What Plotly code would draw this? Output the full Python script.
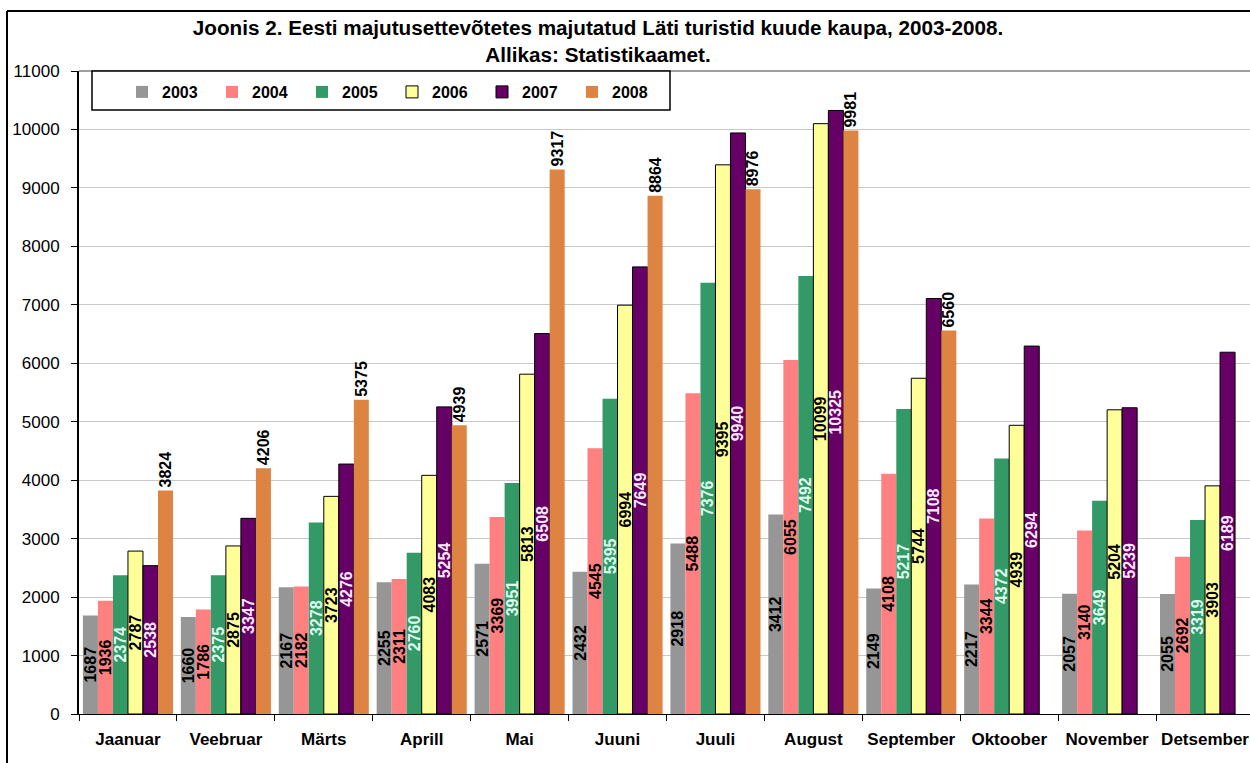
import plotly.graph_objects as go

months = ["Jaanuar", "Veebruar", "Märts", "Aprill", "Mai", "Juuni", "Juuli",
          "August", "September", "Oktoober", "November", "Detsember"]
years = ["2003", "2004", "2005", "2006", "2007", "2008"]

v2003 = [1687, 1660, 2167, 2255, 2571, 2432, 2918, 3412, 2149, 2217, 2057, 2055]
v2004 = [1936, 1786, 2182, 2311, 3369, 4545, 5488, 6055, 4108, 3344, 3140, 2692]
v2005 = [2374, 2375, 3278, 2760, 3951, 5395, 7376, 7492, 5217, 4372, 3649, 3319]
v2006 = [2787, 2875, 3723, 4083, 5813, 6994, 9395, 10099, 5744, 4939, 5204, 3903]
v2007 = [2538, 3347, 4276, 5254, 6508, 7649, 9940, 10325, 7108, 6294, 5239, 6189]
v2008 = [3824, 4206, 5375, 4939, 9317, 8864, 8976, 9981, 6560, None, None, None]

series = [v2003, v2004, v2005, v2006, v2007, v2008]
colors = ["#969696", "#FF8080", "#339966", "#FFFF99", "#660066", "#DD8442"]
label_colors = ["#000000", "#000000", "#DDFFF0", "#000000", "#FFE8FF", "#000000"]
outline = [0, 0, 0, 1, 1, 0]

FONT = "Liberation Sans, Arial, sans-serif"
W, H = 1250, 763
L, T = 79, 71
PLOT_BOTTOM = 714
PLOT_RIGHT = 1254
pw, ph = PLOT_RIGHT - L, PLOT_BOTTOM - T
B = H - PLOT_BOTTOM
visible_right = 11.5 - (PLOT_RIGHT - W) / (pw / 12)

fig = go.Figure()
for i, (yr, vals) in enumerate(zip(years, series)):
    outside = (yr == "2008")
    fig.add_trace(go.Bar(
        x=months, y=vals, name=yr,
        marker=dict(color=colors[i], line=dict(color="#000000", width=outline[i])),
        text=[("" if v is None else str(v)) for v in vals],
        texttemplate="%{text}",
        textposition="outside" if outside else "inside",
        insidetextanchor="middle",
        textangle=-90,
        constraintext="none",
        cliponaxis=False,
        textfont=dict(family=FONT, size=16, color=label_colors[i], weight="bold"),
        hoverinfo="x+y+name",
    ))

plot_w = W - L  # visible plot width (right margin 0)

def px_x(p):
    return (p - L) / plot_w

def px_y(p):
    return (PLOT_BOTTOM - p) / ph

fig.update_layout(
    width=W, height=H,
    margin=dict(l=L, r=0, t=T, b=B, pad=0, autoexpand=False),
    paper_bgcolor="white", plot_bgcolor="white",
    barmode="group", bargap=0.08, bargroupgap=0,
    font=dict(family=FONT, color="black"),
    title=dict(
        text="Joonis 2. Eesti majutusettevõtetes majutatud Läti turistid kuude kaupa, 2003-2008.<br>Allikas: Statistikaamet.",
        x=598 / W, xref="container", xanchor="center",
        y=1 - 35 / H, yref="container", yanchor="top",
        font=dict(family=FONT, size=20.7, color="black", weight="bold"),
    ),
    showlegend=True,
    legend=dict(
        orientation="h", x=px_x(122), y=px_y(75), xanchor="left", yanchor="top",
        bgcolor="rgba(0,0,0,0)", borderwidth=0,
        entrywidth=45, entrywidthmode="pixels",
        font=dict(family=FONT, size=16, color="black", weight="bold"),
        traceorder="normal",
    ),
    xaxis=dict(
        type="category", range=[-0.5, visible_right], automargin=False,
        showline=True, linecolor="#000000", linewidth=1,
        ticks="outside", tickson="boundaries", ticklen=6, tickcolor="#000000",
        tickfont=dict(family=FONT, size=17, color="black", weight="bold"),
        ticklabelstandoff=10,
        showgrid=False, zeroline=False,
    ),
    yaxis=dict(
        range=[0, 11000], dtick=1000, tick0=0, tickformat="d", automargin=False,
        showline=True, linecolor="#000000", linewidth=2,
        ticks="outside", ticklen=6, tickcolor="#000000",
        tickfont=dict(family=FONT, size=17, color="black"),
        ticklabelstandoff=8,
        showgrid=True, gridcolor="#C8C8C8", gridwidth=1,
        zeroline=False,
    ),
    shapes=[
        # outer chart frame: left and top edges (right/bottom lie outside the crop)
        dict(type="line", xref="paper", yref="paper",
             x0=px_x(7), x1=px_x(7), y0=px_y(11), y1=px_y(763),
             line=dict(color="#000000", width=2), layer="above"),
        dict(type="line", xref="paper", yref="paper",
             x0=px_x(7), x1=px_x(1250), y0=px_y(11), y1=px_y(11),
             line=dict(color="#000000", width=2), layer="above"),
        # top plot-area border
        dict(type="line", xref="paper", yref="paper",
             x0=0, x1=1, y0=1, y1=1,
             line=dict(color="#A0A0A0", width=2), layer="below"),
        # legend box
        dict(type="rect", xref="paper", yref="paper",
             x0=px_x(92), x1=px_x(670), y0=px_y(110), y1=px_y(71),
             line=dict(color="#000000", width=1.5), fillcolor="white", layer="above"),
    ],
)

fig.write_html(
    "out.html", config={"displayModeBar": False},
    post_script=("document.documentElement.style.overflow='hidden';"
                 "document.body.style.margin='0';document.body.style.overflow='hidden';"),
)
